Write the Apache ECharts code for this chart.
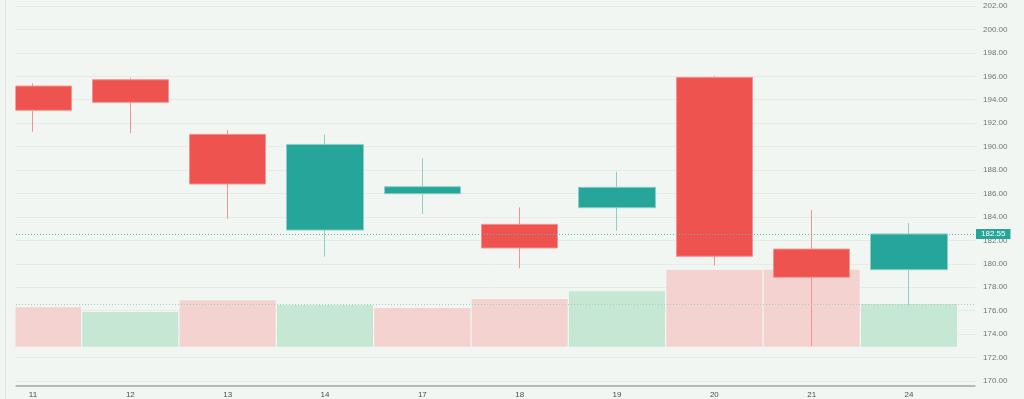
<!DOCTYPE html>
<html>
<head>
<meta charset="utf-8">
<script src="https://cdn.jsdelivr.net/npm/echarts@6/dist/echarts.min.js"></script>
<style>
html,body{margin:0;padding:0;background:#f2f6f3;}
#chart{width:1024px;height:399px;}
</style>
</head>
<body>
<div id="chart"></div>
<script>
const categories = ['11','12','13','14','17','18','19','20','21','24'];
const opens  = [195.17, 195.71, 191.05, 182.88, 185.98, 183.37, 184.79, 195.91, 181.26, 179.50];
const closes = [193.10, 193.78, 186.81, 190.19, 186.58, 181.35, 186.53, 180.64, 178.85, 182.55];
const lows   = [191.27, 191.13, 183.82, 180.61, 184.27, 179.62, 182.82, 179.84, 172.99, 176.48];
const highs  = [195.40, 195.88, 191.42, 191.02, 189.00, 184.82, 187.86, 196.05, 184.59, 183.48];
const volumes = [39.4, 34.7, 46.4, 41.7, 38.7, 47.7, 55.4, 76.7, 77.0, 42.7];
const volumeUp = [false, true, false, true, false, false, true, false, false, true];

const candleData = categories.map((c, i) => [i, opens[i], closes[i], lows[i], highs[i]]);
const volData = categories.map((c, i) => ({
  value: [i, volumes[i]],
  itemStyle: { color: volumeUp[i] ? '#c5e7d4' : '#f3d2cf' }
}));
const lastClose = closes[closes.length - 1];
const lastVol = volumes[volumes.length - 1];
const idx = categories.map((c, i) => i);

const xMin = -0.1747, xMax = 9.678;
const fontFam = "'Liberation Sans', Arial, sans-serif";
const bg = '#f2f6f3';

const chart = echarts.init(document.getElementById('chart'));
chart.setOption({
  backgroundColor: bg,
  animation: false,
  grid: [
    { left: 16, right: 49, top: -17.44, height: 421.88, outerBoundsMode: 'none', containLabel: false },
    { left: 16, right: 49, top: 269.7, height: 77, outerBoundsMode: 'none', containLabel: false }
  ],
  xAxis: [
    { type: 'value', gridIndex: 0, min: xMin, max: xMax, show: false },
    {
      type: 'value', gridIndex: 1, min: xMin, max: xMax, offset: 39.3,
      axisLine: { show: true, onZero: false, lineStyle: { color: '#a3a7a4', width: 1.5 } },
      axisTick: { show: false },
      splitLine: { show: false },
      axisLabel: {
        customValues: idx,
        formatter: v => categories[Math.round(v)],
        color: '#4a4d4a', fontSize: 8, margin: 5, fontFamily: fontFam
      }
    }
  ],
  yAxis: [
    {
      type: 'value', gridIndex: 0, position: 'right', min: 168, max: 204, interval: 2,
      axisLine: { show: false }, axisTick: { show: false },
      splitLine: { show: true, lineStyle: { color: '#e6ebe7', width: 1 } },
      axisLabel: { formatter: v => v.toFixed(2), color: '#727572', fontSize: 8, margin: 8, fontFamily: fontFam }
    },
    { type: 'value', gridIndex: 1, min: 0, max: 77, show: false }
  ],
  graphic: [
    { type: 'rect', shape: { x: 0, y: 0, width: 15.5, height: 386 }, style: { fill: bg }, z: 50, silent: true },
    { type: 'line', shape: { x1: 5.5, y1: 0, x2: 5.5, y2: 399 }, style: { stroke: '#dfe4e0', lineWidth: 1 }, z: 51, silent: true }
  ],
  series: [
    {
      type: 'bar', xAxisIndex: 1, yAxisIndex: 1, data: volData, barWidth: 96, z: 2,
      markLine: {
        symbol: 'none', silent: true,
        data: [{ yAxis: lastVol }],
        lineStyle: { color: '#9fd3bd', type: [1, 2], width: 1 },
        label: { show: false }
      }
    },
    {
      type: 'candlestick', xAxisIndex: 0, yAxisIndex: 0, data: candleData, barWidth: 77, z: 3,
      itemStyle: {
        color: '#26a69a', color0: '#ef5350',
        borderColor: '#8ccfc6', borderColor0: '#f39491', borderWidth: 1
      },
      markLine: {
        symbol: 'none', silent: true,
        data: [{ yAxis: lastClose }],
        lineStyle: { color: '#5fbcb2', type: [1, 2], width: 1 },
        label: {
          position: 'end', distance: 1,
          formatter: () => lastClose.toFixed(2),
          color: '#ffffff', backgroundColor: '#26a69a', padding: [1, 5, 1, 5],
          fontSize: 8, fontFamily: fontFam
        }
      }
    }
  ]
});
</script>
</body>
</html>
